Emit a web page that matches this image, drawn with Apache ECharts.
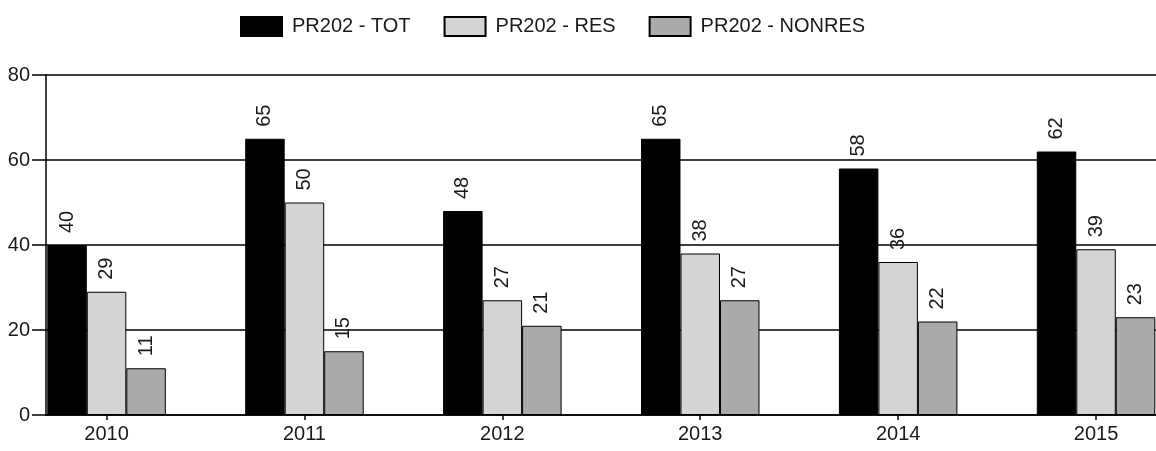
<!DOCTYPE html>
<html>
<head>
<meta charset="utf-8">
<script src="https://cdn.jsdelivr.net/npm/echarts@6/dist/echarts.min.js"></script>
<style>html,body{margin:0;padding:0;background:#fff}#c{width:1156px;height:451px}</style>
</head>
<body>
<div id="c"></div>
<script>
const years = [2010, 2011, 2012, 2013, 2014, 2015];
const seriesNames = ['PR202 - TOT', 'PR202 - RES', 'PR202 - NONRES'];
const tot = [40, 65, 48, 65, 58, 62];
const res = [29, 50, 27, 38, 36, 39];
const nonres = [11, 15, 21, 27, 22, 23];
const yTicks = [0, 20, 40, 60, 80];

const colors = ['#000000', '#d4d4d4', '#aaaaaa'];
const values = [tot, res, nonres];
const font = 'Liberation Sans, Arial, sans-serif';

const chart = echarts.init(document.getElementById('c'), null, {renderer: 'canvas'});
chart.setOption({
  animation: false,
  backgroundColor: '#ffffff',
  textStyle: {fontFamily: font},
  legend: {
    left: 235, top: 11,
    icon: 'rect',
    itemWidth: 41, itemHeight: 19, itemGap: 33,
    textStyle: {fontSize: 20, color: '#1a1a1a', fontFamily: font, padding: [0, 0, 0, 5]},
    data: seriesNames
  },
  grid: {left: 46, right: 0, top: 75, bottom: 36, containLabel: false},
  xAxis: {
    type: 'value',
    min: 2009.694, max: 2015.303,
    axisLine: {show: true, onZero: false, lineStyle: {color: '#000', width: 1.5}},
    axisTick: {show: true, length: 5, customValues: years, lineStyle: {color: '#000', width: 1.5}},
    axisLabel: {customValues: years, fontSize: 20, color: '#1a1a1a', margin: 9, fontFamily: font,
      formatter: v => String(Math.round(v))},
    splitLine: {show: false}
  },
  yAxis: {
    type: 'value', min: yTicks[0], max: yTicks[yTicks.length - 1], interval: 20,
    axisLine: {show: true, lineStyle: {color: '#000', width: 1.5}},
    axisTick: {show: true, length: 14, lineStyle: {color: '#000', width: 1.5}},
    axisLabel: {fontSize: 20, color: '#1a1a1a', margin: 16, fontFamily: font},
    splitLine: {show: true, lineStyle: {color: '#000', width: 1.5}}
  },
  series: seriesNames.map((name, i) => ({
    name: name,
    type: 'bar',
    barWidth: 39.5,
    barGap: '0%',
    data: years.map((y, j) => [y, values[i][j]]),
    itemStyle: {color: colors[i], borderColor: '#000', borderWidth: 1},
    label: {
      show: true, position: 'top', rotate: 90, distance: 12,
      align: 'left', verticalAlign: 'middle',
      fontSize: 20, color: '#1a1a1a', fontFamily: font,
      formatter: p => String(p.value[1])
    }
  }))
});
</script>
</body>
</html>
